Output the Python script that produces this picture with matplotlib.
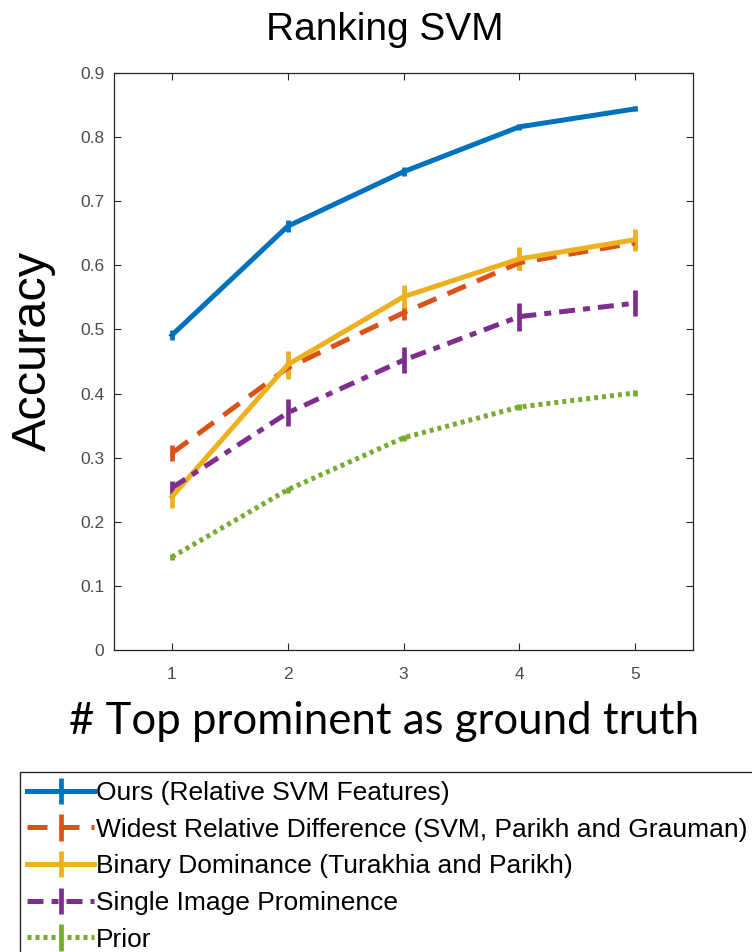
"""Ranking SVM accuracy vs number of top prominent attributes used as ground truth."""

import matplotlib

matplotlib.use("Agg")
import matplotlib.pyplot as plt
from matplotlib.patches import Rectangle

# ── Data ──────────────────────────────────────────────────────────────
top_k = [1, 2, 3, 4, 5]

ours = [0.491, 0.661, 0.746, 0.816, 0.844]
ours_err = [0.008, 0.009, 0.007, 0.005, 0.004]

widest = [0.307, 0.440, 0.526, 0.604, 0.635]
widest_err = [0.012, 0.012, 0.011, 0.011, 0.010]

binary = [0.239, 0.445, 0.551, 0.610, 0.640]
binary_err = [0.018, 0.022, 0.018, 0.018, 0.017]

single = [0.253, 0.370, 0.452, 0.520, 0.541]
single_err = [0.010, 0.021, 0.020, 0.022, 0.020]

prior = [0.145, 0.250, 0.331, 0.379, 0.401]
prior_err = [0.005, 0.005, 0.005, 0.005, 0.005]

labels = [
    "Ours (Relative SVM Features)",
    "Widest Relative Difference (SVM, Parikh and Grauman)",
    "Binary Dominance (Turakhia and Parikh)",
    "Single Image Prominence",
    "Prior",
]
y_ticks = [0, 0.1, 0.2, 0.3, 0.4, 0.5, 0.6, 0.7, 0.8, 0.9]

# MATLAB default colour order
colors = ["#0072BD", "#D95319", "#EDB120", "#7E2F8E", "#77AC30"]
styles = ["-", (0, (4, 2.4)), "-", (0, (3.2, 1.6, 1.4, 1.6)), (0, (0.8, 0.8))]

W, H = 752, 952
fig = plt.figure(figsize=(W / 100, H / 100), dpi=100)
ax = fig.add_axes([114 / W, 1 - 650 / H, (693 - 114) / W, (650 - 73) / H])

series = [
    (ours, ours_err),
    (widest, widest_err),
    (binary, binary_err),
    (single, single_err),
    (prior, prior_err),
]
handles = []
for (vals, err), col, ls, lab in zip(series, colors, styles, labels):
    h = ax.errorbar(
        top_k, vals, yerr=err, color=col, linestyle=ls, linewidth=3.6,
        elinewidth=3.4, capsize=0, label=lab,
    )
    h[2][0].set_linestyle("-")
    handles.append(h)

ax.set_xlim(0.5, 5.5)
ax.set_ylim(0, 0.9)
ax.set_xticks(top_k)
ax.set_yticks(y_ticks)
ax.set_yticklabels([f"{v:g}" for v in y_ticks])
ax.tick_params(direction="in", top=True, right=True, length=5, width=0.8,
               colors="#262626", labelsize=12.5)
ax.tick_params(axis="x", pad=12)
ax.tick_params(axis="y", pad=7)
for lbl in ax.get_xticklabels() + ax.get_yticklabels():
    lbl.set_family(["Liberation Sans", "DejaVu Sans"])
    lbl.set_color("#4d4d4d")
for sp in ax.spines.values():
    sp.set_color("#262626")
    sp.set_linewidth(0.9)

fig.text(385 / W, 1 - 30 / H, "Ranking SVM", ha="center", va="center",
         fontsize=28, family=["Liberation Sans", "DejaVu Sans"])
fig.text(33 / W, 1 - 351 / H, "Accuracy", ha="center", va="center",
         rotation=90, fontsize=35, family=["Liberation Sans", "DejaVu Sans"])
fig.text(384 / W, 1 - 722 / H, "# Top prominent as ground truth", ha="center",
         va="center", fontsize=31.5, family=["Lato", "DejaVu Sans"])

# legend box (cut off at the right and bottom of the image)
fig.patches.append(Rectangle((20 / W, -0.01), (W - 20 + 20) / W, 1 - 772 / H + 0.01,
                             transform=fig.transFigure, facecolor="white",
                             edgecolor="#262626", linewidth=1.0))
leg = fig.legend(handles=handles, labels=labels, loc="upper left",
                 bbox_to_anchor=(27 / W, 1 - 781 / H), frameon=False,
                 borderpad=0, borderaxespad=0,
                 handlelength=2.55, handletextpad=0.05, labelspacing=0.48,
                 prop={"family": ["Liberation Sans", "DejaVu Sans"], "size": 19})

fig.savefig("out.png", dpi=100)
